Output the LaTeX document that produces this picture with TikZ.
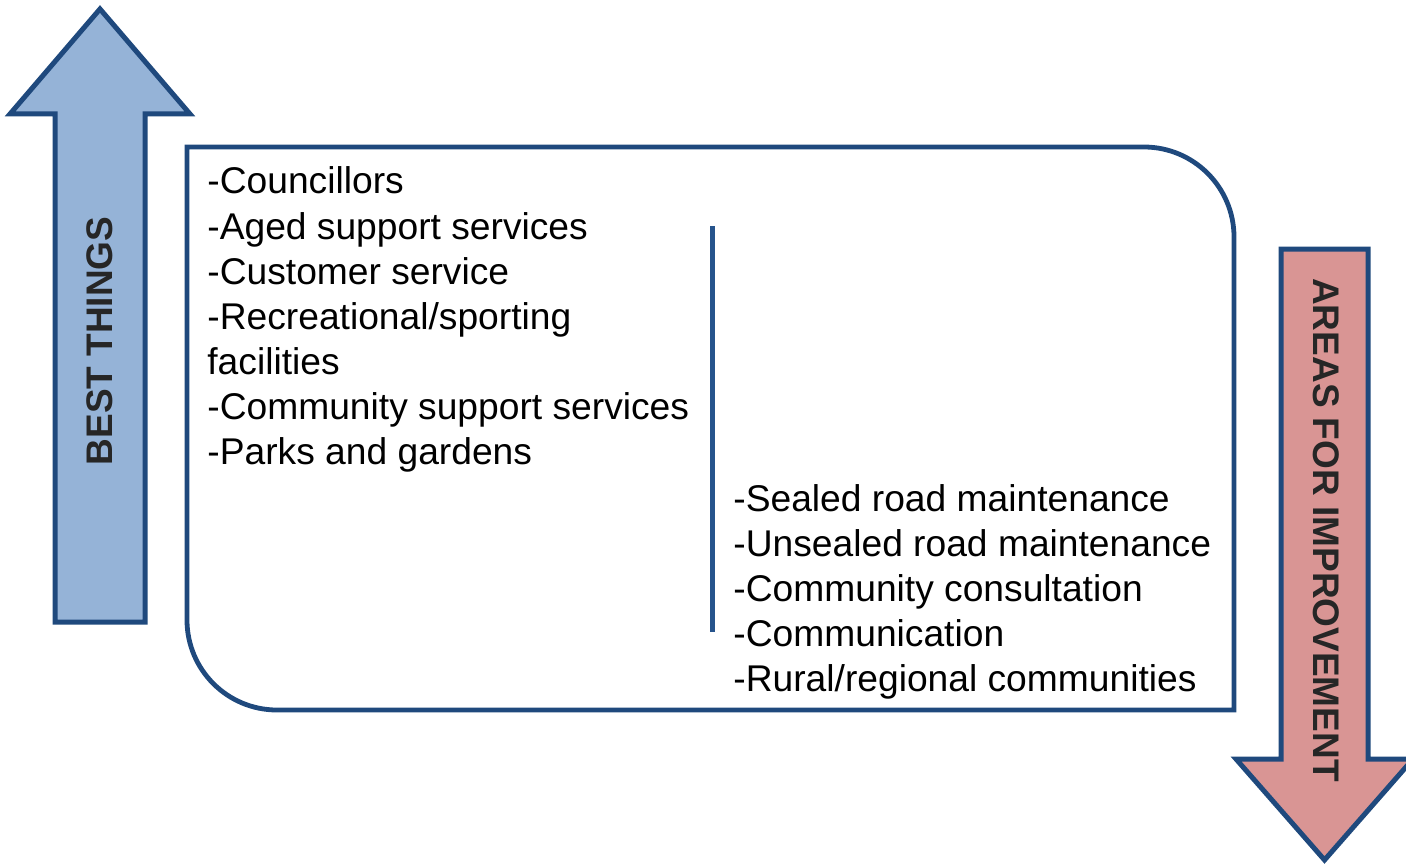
\documentclass[tikz,border=0pt]{standalone}
\usepackage{fontspec}
\setmainfont{Liberation Sans}
\definecolor{outline}{RGB}{31,73,125}
\definecolor{divider}{RGB}{38,84,140}
\definecolor{upfill}{RGB}{149,179,215}
\definecolor{downfill}{RGB}{217,149,148}
\definecolor{labelgray}{RGB}{38,38,38}
\tikzset{
  bigarrow/.style={draw=outline, line width=2.5pt, line join=miter},
  arrowlabel/.style={inner sep=0pt, text=labelgray, font=\bfseries\fontsize{18.5}{22}\selectfont},
  item/.style={inner sep=0pt, anchor=base west, font=\fontsize{18.6}{22.5}\selectfont},
}
\begin{document}
\begin{tikzpicture}[x=0.5pt, y=-0.5pt]
  \useasboundingbox (0,0) rectangle (1406,866);

  % upward arrow on the left
  \draw[bigarrow, fill=upfill]
    (100,9) -- (190,114) -- (145,114) -- (145,622) -- (55,622) -- (55,114) -- (10,114) -- cycle;
  \node[arrowlabel, rotate=90] (best) at (100,341) {BEST THINGS};

  % downward arrow on the right
  \draw[bigarrow, fill=downfill]
    (1281,249) -- (1368,249) -- (1368,759) -- (1413,759) -- (1324.5,860) -- (1236,759) -- (1281,759) -- cycle;
  \node[arrowlabel, rotate=-90] (improve) at (1326,530) {AREAS FOR IMPROVEMENT};

  % frame with two rounded corners
  \draw[draw=outline, line width=2.4pt]
    (187,147) -- (1144,147) .. controls (1193.7,147) and (1234,187.3) .. (1234,237)
    -- (1234,710) -- (277,710) .. controls (227.3,710) and (187,669.7) .. (187,620) -- cycle;

  % column divider
  \coordinate (divtop) at (712,226);
  \coordinate (divbot) at (712,632);
  \draw[divider, line width=2.5pt] (divtop) -- (divbot);

  % left column
  \foreach \t [count=\i from 0] in {-Councillors,-Aged support services,-Customer service,
      -Recreational/sporting,facilities,-Community support services,-Parks and gardens}
    \node[item] (good\i) at (207,194+45*\i) {\t};

  % right column
  \foreach \t [count=\i from 0] in {-Sealed road maintenance,-Unsealed road maintenance,
      -Community consultation,-Communication,-Rural/regional communities}
    \node[item] (bad\i) at (733,511+45*\i) {\t};
\end{tikzpicture}
\end{document}
